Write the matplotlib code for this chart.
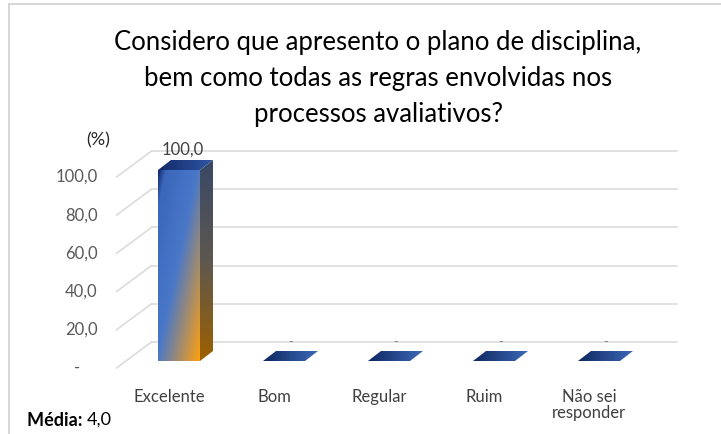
import numpy as np
import matplotlib.pyplot as plt
from matplotlib.patches import Polygon
from matplotlib.colors import LinearSegmentedColormap
from matplotlib.lines import Line2D
from matplotlib.transforms import ScaledTranslation


CATEGORIES = ["Excelente", "Bom", "Regular", "Ruim", "Não sei\nresponder"]
PERCENT = [100.0, 0.0, 0.0, 0.0, 0.0]
VALUE_LABELS = ["100,0", "-", "-", "-", "-"]
Y_TICKS = [0, 20, 40, 60, 80, 100]
Y_TICK_LABELS = ["-", "20,0", "40,0", "60,0", "80,0", "100,0"]
TITLE = ("Considero que apresento o plano de disciplina,\n"
         "bem como todas as regras envolvidas nos\n"
         "processos avaliativos?")
UNIT_LABEL = "(%)"
MEAN_LABEL = "Média:"
MEAN_VALUE = "4,0"

W, H = 721, 434
FONT = "Lato"
TEXT_GREY = "#595959"
GRID = "#d9d9d9"

# pixel offsets of the fake 3D depth (x right, y up)
WALL = (35, 26)
BAR_FRONT = (10, 7)
BAR_BACK = (23, 17)
BAR_WIDTH = 0.4

FRONT_CMAP = LinearSegmentedColormap.from_list(
    "front", [(0.0, "#13296a"), (0.09, "#3a66bb"), (0.48, "#4a78c8"), (1.0, "#ffa00f")])
SIDE_CMAP = LinearSegmentedColormap.from_list(
    "side", [(0.0, "#3a4866"), (0.5, "#5d5850"), (1.0, "#9c6000")])
TOP_CMAP = LinearSegmentedColormap.from_list("top", ["#132a6a", "#2f56a3"])
FLAT_CMAP = LinearSegmentedColormap.from_list("flat", ["#0e2861", "#3d67b5"])


def px_to_data(ax, dx, dy):
    # size of one data unit in pixels, axes geometry is fixed
    p0 = ax.transData.transform((0, 0))
    p1 = ax.transData.transform((1, 1))
    return dx / (p1[0] - p0[0]), dy / (p1[1] - p0[1])


def gradient_face(ax, verts, cmap, mode, zorder):
    verts = np.asarray(verts)
    x0, y0 = verts.min(axis=0)
    x1, y1 = verts.max(axis=0)
    u, v = np.meshgrid(np.linspace(0, 1, 60), np.linspace(0, 1, 200))
    if mode == "diag":
        t = (u + v) / 2
    elif mode == "vert":
        t = v
    else:
        t = u
    im = ax.imshow(t, cmap=cmap, vmin=0, vmax=1, extent=(x0, x1, y0, y1),
                   origin="upper", aspect="auto", interpolation="bilinear",
                   zorder=zorder)
    # faces poke above the axes box, so clip to the figure + the face outline
    im.set_clip_box(ax.figure.bbox)
    im.set_clip_path(Polygon(verts, closed=True, transform=ax.transData))


fig = plt.figure(figsize=(W / 100, H / 100), dpi=100)
ax = fig.add_axes([116.5 / W, (H - 368) / H, 525 / W, 191 / H])
n = len(CATEGORIES)
ax.set_xlim(-0.5, n - 0.5)
ax.set_ylim(0, 100)
ax.set_facecolor("none")
for s in ax.spines.values():
    s.set_visible(False)

wx, wy = px_to_data(ax, *WALL)
fx, fy = px_to_data(ax, *BAR_FRONT)
bx, by = px_to_data(ax, *BAR_BACK)

# back wall gridlines plus the floor/side diagonals
for v in Y_TICKS:
    ax.plot([-0.5 + wx, n - 0.5 + wx], [v + wy, v + wy], color=GRID, lw=1.1,
            clip_on=False, zorder=1)
    ax.plot([-0.5, -0.5 + wx], [v, v + wy], color=GRID, lw=1.1,
            clip_on=False, zorder=1)

x = np.arange(n)
for xi, val, lab in zip(x, PERCENT, VALUE_LABELS):
    left, right = xi - BAR_WIDTH / 2, xi + BAR_WIDTH / 2
    if val > 0:
        front = [(left + fx, fy), (right + fx, fy), (right + fx, val + fy), (left + fx, val + fy)]
        side = [(right + fx, fy), (right + bx, by), (right + bx, val + by), (right + fx, val + fy)]
        top = [(left + fx, val + fy), (right + fx, val + fy), (right + bx, val + by), (left + bx, val + by)]
        gradient_face(ax, side, SIDE_CMAP, "vert", 3)
        gradient_face(ax, front, FRONT_CMAP, "diag", 4)
        gradient_face(ax, top, TOP_CMAP, "horiz", 4)
        ax.text(xi + (fx + bx) / 2 - 0.03, val + by + 1, lab, ha="center", va="bottom",
                fontsize=12, color="#404040", family=FONT, zorder=5)
    else:
        flat = [(left + fx, val + fy), (right + fx, val + fy),
                (right + bx, val + by), (left + bx, val + by)]
        gradient_face(ax, flat, FLAT_CMAP, "horiz", 3)
        ax.text(xi + (fx + bx) / 2, val + by + 1.5, lab, ha="center", va="bottom",
                fontsize=9, color="#7f7f7f", family=FONT, zorder=5)

ax.set_xticks(x)
ax.set_xticklabels(CATEGORIES, fontsize=12, color="#404040", family=FONT,
                   linespacing=1.0)
ax.tick_params(axis="x", length=0, pad=15)
ax.set_yticks([])

# y tick labels: dash for zero sits further left (accounting format)
for v, lab in zip(Y_TICKS, Y_TICK_LABELS):
    shift = -19 if v != 0 else -36
    ax.text(-0.5, v, lab, ha="right", va="center", fontsize=12, color=TEXT_GREY,
            family=FONT, clip_on=False,
            transform=ax.transData + ScaledTranslation(shift / 100, 0, fig.dpi_scale_trans))

fig.text(98 / W, 1 - 140 / H, UNIT_LABEL, ha="center", va="center", fontsize=13,
         color="#262626", family=FONT)

fig.text(378 / W, 1 - 79 / H, TITLE, ha="center", va="center", fontsize=18.5,
         color="#000000", family=FONT, linespacing=1.55)

t1 = fig.text(27 / W, 1 - 420 / H, MEAN_LABEL + " ", ha="left", va="center",
              fontsize=13, fontweight="bold", color="#000000", family=FONT)
fig.canvas.draw()
bb = t1.get_window_extent()
fig.text(bb.x1 / W, 1 - 420 / H, MEAN_VALUE, ha="left", va="center", fontsize=13,
         color="#000000", family=FONT)

# chart frame (cropped at right and bottom)
fig.add_artist(Line2D([9 / W, 1], [1 - 3.5 / H, 1 - 3.5 / H], color="#d0d0d0", lw=1.2,
                      transform=fig.transFigure))
fig.add_artist(Line2D([9 / W, 9 / W], [0, 1 - 3.5 / H], color="#d0d0d0", lw=1.2,
                      transform=fig.transFigure))

fig.savefig("out.png", dpi=100)
